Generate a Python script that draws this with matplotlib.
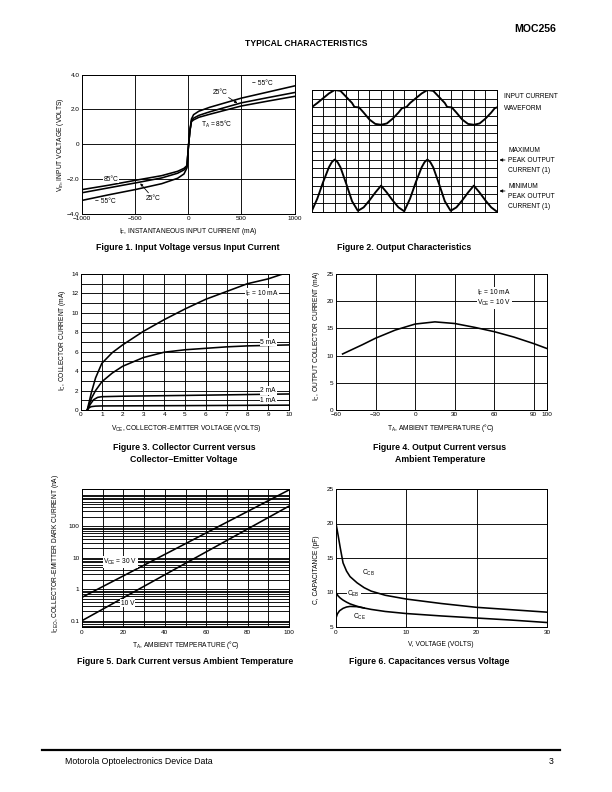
import matplotlib
matplotlib.use('Agg')
import matplotlib.pyplot as plt
from matplotlib.ticker import FixedLocator, NullFormatter, LogLocator

plt.rcParams['font.family'] = ['Liberation Sans', 'DejaVu Sans']
plt.rcParams['mathtext.default'] = 'regular'

# ---------------- data ----------------
# Figure 1: input voltage vs input current
f1_current = [-1000, -750, -500, -250, -100, -40, -12, 0, 15, 30, 50, 100, 200, 500, 750, 1000]
f1_v_85 = [-2.6, -2.35, -2.07, -1.8, -1.55, -1.38, -1.22, -0.25, 0.75, 1.3, 1.4, 1.55, 1.72, 2.2, 2.48, 2.75]
f1_v_25 = [-2.78, -2.5, -2.22, -1.93, -1.66, -1.47, -1.27, -0.25, 0.75, 1.35, 1.5, 1.66, 1.86, 2.38, 2.68, 2.97]
f1_v_m55 = [-3.22, -2.9, -2.6, -2.26, -1.95, -1.7, -1.35, -0.25, 0.75, 1.45, 1.7, 1.9, 2.12, 2.65, 3.0, 3.35]
f1_xticks = [-1000, -500, 0, 500, 1000]
f1_xticklabels = ['\u22121000', '\u2212500', '0', '500', '1000']
f1_yticks = [-4, -2, 0, 2, 4]
f1_yticklabels = ['\u22124.0', '\u22122.0', '0', '2.0', '4.0']

# Figure 2: output characteristics (grid divisions)
f2_x_in = [0, 0.5, 1, 1.5, 2, 2.5, 3, 3.5, 3.7, 4.1, 4.5, 5, 5.5, 6, 6.5, 7, 7.5, 7.8, 8.2, 8.5,
           9, 9.5, 10, 10.5, 11, 11.5, 11.7, 12.1, 12.5, 13, 13.5, 14, 14.5, 15, 15.5, 15.8, 16]
f2_y_in = [12, 12.5, 13.05, 13.6, 14, 13.9, 13.2, 12.5, 12.05, 12.0, 11.4, 10.6, 10.1, 10, 10.15, 10.7, 11.4, 11.9, 12.05, 12.5,
           13.05, 13.6, 14, 13.9, 13.2, 12.5, 12.05, 12.0, 11.4, 10.6, 10.1, 10, 10.15, 10.7, 11.4, 11.9, 12.0]
f2_x_out = [0, 0.5, 1, 1.5, 1.75, 2, 2.25, 2.5, 3, 3.5, 4, 4.5, 5, 5.5, 6, 6.5, 7, 7.5, 8, 8.5,
            9, 9.5, 9.75, 10, 10.25, 10.5, 11, 11.5, 12, 12.5, 13, 13.5, 14, 14.5, 15, 15.5, 16]
f2_y_out = [0, 1.5, 3.4, 5.1, 5.7, 6, 5.7, 5.1, 3.2, 1.2, 0.1, 0.5, 1.3, 2.2, 3, 2.2, 1.3, 0.5, 0.05, 1.5,
            3.4, 5.1, 5.7, 6, 5.7, 5.1, 3.2, 1.2, 0.1, 0.5, 1.3, 2.2, 3, 2.2, 1.3, 0.5, 0]

# Figure 3: collector current vs collector-emitter voltage
f3_v_10 = [0.3, 0.5, 0.7, 1, 1.5, 2, 3, 4, 5, 6, 7, 8, 9, 9.7]
f3_i_10 = [0, 1.8, 3.3, 4.8, 5.9, 6.7, 8.1, 9.3, 10.4, 11.4, 12.2, 13.0, 13.5, 14.0]
f3_v_5 = [0.3, 0.5, 0.7, 1, 1.5, 2, 3, 4, 5, 6, 7, 8, 9, 10]
f3_i_5 = [0, 1.2, 2.0, 2.9, 3.8, 4.5, 5.4, 5.95, 6.2, 6.35, 6.5, 6.6, 6.65, 6.7]
f3_v_2 = [0.3, 0.45, 0.6, 0.8, 1, 2, 5, 10]
f3_i_2 = [0, 0.6, 1.05, 1.3, 1.37, 1.42, 1.5, 1.65]
f3_v_1 = [0.3, 0.4, 0.5, 0.7, 1, 5, 10]
f3_i_1 = [0, 0.25, 0.35, 0.4, 0.42, 0.45, 0.5]

# Figure 4: output current vs ambient temperature
f4_temp = [-55, -40, -30, -15, 0, 15, 30, 45, 60, 75, 90, 100]
f4_ic = [10.3, 12.0, 13.2, 14.7, 15.8, 16.2, 15.9, 15.2, 14.4, 13.4, 12.2, 11.3]
f4_xticks = [-60, -30, 0, 30, 60, 90, 100]
f4_xticklabels = ['\u221260', '\u221230', '0', '30', '60', '90', '100']

# Figure 5: dark current vs ambient temperature
f5_temp = [0, 50, 100]
f5_id_30 = [0.55, 27.7, 1400]
f5_id_10 = [0.1, 6.6, 430]

# Figure 6: capacitances vs voltage
f6_v = [0, 0.3, 0.6, 1, 1.5, 2, 3, 4, 5, 7, 10, 15, 20, 25, 30]
f6_ccb = [20, 18.3, 16.5, 14.3, 13.1, 12.3, 11.4, 10.7, 10.2, 9.6, 9.05, 8.4, 7.85, 7.5, 7.15]
f6_ceb = [10, 9.5, 9.2, 8.9, 8.6, 8.35, 8.0, 7.75, 7.55, 7.25, 6.95, 6.6, 6.3, 6.0, 5.65]
f6_v_ce = [0, 0.2, 0.5, 1, 1.5, 2, 3, 4]
f6_cce = [6.3, 6.9, 7.35, 7.7, 7.9, 7.98, 7.95, 7.75]

# ---------------- layout helpers ----------------
W, H = 612, 792
fig = plt.figure(figsize=(W / 72, H / 72), dpi=72)

TICK = 6.4
LAB = 6.6
TIT = 8.8
LW = 1.6
GLW = 0.9
WB = dict(facecolor='white', edgecolor='none', pad=0.6)


def ax_at(l, t, r, b):
    a = fig.add_axes([l / W, 1 - b / H, (r - l) / W, (b - t) / H])
    for s in a.spines.values():
        s.set_linewidth(1.0)
        s.set_color('black')
    a.tick_params(length=0, pad=2.5, labelsize=TICK)
    a.set_axisbelow(True)
    return a


def ftext(x, y, s, **kw):
    kw.setdefault('ha', 'center')
    kw.setdefault('va', 'center')
    fig.text(x / W, 1 - y / H, s, **kw)


def grid(a, which='major'):
    a.grid(True, which=which, color='black', linewidth=GLW)

# ---------------- header / footer ----------------
ftext(556, 29, 'MOC256', ha='right', fontsize=10.5, fontweight='heavy')
ftext(306, 44, 'TYPICAL CHARACTERISTICS', fontsize=8.6, fontweight='bold')
fig.add_artist(plt.Line2D([42 / W, 560 / W], [1 - 750 / H, 1 - 750 / H], color='black', linewidth=2.2))
ftext(65, 762, 'Motorola Optoelectronics Device Data', ha='left', fontsize=8.8)
ftext(554, 762, '3', ha='right', fontsize=8.8)

# ---------------- Figure 1 ----------------
a1 = ax_at(82, 74.6, 294.5, 214)
a1.plot(f1_current, f1_v_85, color='black', lw=LW)
a1.plot(f1_current, f1_v_25, color='black', lw=LW)
a1.plot(f1_current, f1_v_m55, color='black', lw=LW)
a1.set_xlim(-1000, 1000)
a1.set_ylim(-4, 4)
a1.set_xticks(f1_xticks)
a1.set_xticklabels(f1_xticklabels)
a1.set_yticks(f1_yticks)
a1.set_yticklabels(f1_yticklabels)
grid(a1)
a1.text(700, 3.5, '\u2212 55\u00b0C', fontsize=LAB, ha='center', va='center')
a1.annotate('25\u00b0C', xy=(462, 2.36), xytext=(300, 3.0), fontsize=LAB, ha='center', va='center',
            arrowprops=dict(arrowstyle='-|>', color='black', lw=0.8, mutation_scale=5, shrinkA=0, shrinkB=0))
a1.text(270, 1.15, 'T$_A$ = 85\u00b0C', fontsize=LAB, ha='center', va='center')
a1.text(-727, -2.0, '85\u00b0C', fontsize=LAB, ha='center', va='center', bbox=WB)
a1.annotate('25\u00b0C', xy=(-452, -2.24), xytext=(-330, -3.1), fontsize=LAB, ha='center', va='center',
            arrowprops=dict(arrowstyle='-|>', color='black', lw=0.8, mutation_scale=5, shrinkA=0, shrinkB=0))
a1.text(-780, -3.3, '\u2212 55\u00b0C', fontsize=LAB, ha='center', va='center')
ftext(60, 145, 'V$_{in}$, INPUT VOLTAGE (VOLTS)', rotation=90, fontsize=LAB)
ftext(188, 231, 'I$_F$, INSTANTANEOUS INPUT CURRENT (mA)', fontsize=LAB)
ftext(188, 248, 'Figure 1. Input Voltage versus Input Current', fontsize=TIT, fontweight='bold')

# ---------------- Figure 2 ----------------
a2 = ax_at(311.5, 90, 497, 211.7)
a2.plot(f2_x_in, f2_y_in, color='black', lw=1.9, solid_joinstyle='round')
a2.plot(f2_x_out, f2_y_out, color='black', lw=1.9, solid_joinstyle='round')
a2.set_xlim(0, 16)
a2.set_ylim(0, 14)
a2.xaxis.set_major_locator(FixedLocator(list(range(0, 17))))
a2.yaxis.set_major_locator(FixedLocator(list(range(0, 15))))
a2.xaxis.set_major_formatter(NullFormatter())
a2.yaxis.set_major_formatter(NullFormatter())
grid(a2)
ftext(504, 97, 'INPUT CURRENT', ha='left', fontsize=LAB)
ftext(504, 108, 'WAVEFORM', ha='left', fontsize=LAB)
for yy, s in [(150, 'MAXIMUM'), (160, 'PEAK OUTPUT'), (171, 'CURRENT (1)'),
              (186, 'MINIMUM'), (196, 'PEAK OUTPUT'), (206, 'CURRENT (1)')]:
    ftext(508, yy, s, ha='left', fontsize=LAB)
for yy in (160, 191):
    fig.add_artist(matplotlib.patches.FancyArrowPatch((507 / W, 1 - yy / H), (497.5 / W, 1 - yy / H),
                                                      transform=fig.transFigure, arrowstyle='-|>',
                                                      mutation_scale=6, color='black', lw=0.8))
ftext(404, 248, 'Figure 2. Output Characteristics', fontsize=TIT, fontweight='bold')

# ---------------- Figure 3 ----------------
a3 = ax_at(81, 274, 289, 410)
a3.plot(f3_v_10, f3_i_10, color='black', lw=LW)
a3.plot(f3_v_5, f3_i_5, color='black', lw=LW)
a3.plot(f3_v_2, f3_i_2, color='black', lw=LW)
a3.plot(f3_v_1, f3_i_1, color='black', lw=LW)
a3.set_xlim(0, 10)
a3.set_ylim(0, 14)
a3.set_xticks(list(range(0, 11)))
a3.set_yticks(list(range(0, 15, 2)))
a3.yaxis.set_minor_locator(FixedLocator(list(range(1, 14, 2))))
a3.tick_params(which='minor', length=0)
grid(a3, 'both')
a3.text(8.7, 12, 'I$_F$ = 10 mA', fontsize=LAB, ha='center', va='center', bbox=WB)
a3.text(9.0, 7, '5 mA', fontsize=LAB, ha='center', va='center', bbox=WB)
a3.text(9.0, 2, '2 mA', fontsize=LAB, ha='center', va='center', bbox=WB)
a3.text(9.0, 1, '1 mA', fontsize=LAB, ha='center', va='center', bbox=WB)
ftext(62, 340, 'I$_C$, COLLECTOR CURRENT (mA)', rotation=90, fontsize=LAB)
ftext(186, 428, 'V$_{CE}$, COLLECTOR\u2013EMITTER VOLTAGE (VOLTS)', fontsize=LAB)
ftext(184, 447, 'Figure 3. Collector Current versus', fontsize=TIT, fontweight='bold')
ftext(184, 459, 'Collector\u2013Emitter Voltage', fontsize=TIT, fontweight='bold')

# ---------------- Figure 4 ----------------
a4 = ax_at(336, 274, 547, 410)
a4.plot(f4_temp, f4_ic, color='black', lw=LW)
a4.set_xlim(-60, 100)
a4.set_ylim(0, 25)
a4.set_xticks(f4_xticks)
a4.set_xticklabels(f4_xticklabels)
a4.set_yticks([0, 5, 10, 15, 20, 25])
for xv in [-30, 0, 30, 60, 90]:
    a4.axvline(xv, color='black', lw=GLW, zorder=0.5)
for yv in [5, 10, 15, 20]:
    a4.axhline(yv, color='black', lw=GLW, zorder=0.5)
a4.text(60, 21.5, 'I$_F$ = 10 mA', fontsize=LAB, ha='center', va='center', bbox=WB)
a4.text(60, 19.7, 'V$_{CE}$ = 10 V', fontsize=LAB, ha='center', va='center', bbox=WB)
ftext(316, 336, 'I$_C$, OUTPUT COLLECTOR CURRENT (mA)', rotation=90, fontsize=LAB)
ftext(441, 428, 'T$_A$, AMBIENT TEMPERATURE (\u00b0C)', fontsize=LAB)
ftext(440, 447, 'Figure 4. Output Current versus', fontsize=TIT, fontweight='bold')
ftext(440, 459, 'Ambient Temperature', fontsize=TIT, fontweight='bold')

# ---------------- Figure 5 ----------------
a5 = ax_at(82, 489, 289, 627)
a5.plot(f5_temp, f5_id_30, color='black', lw=LW)
a5.plot(f5_temp, f5_id_10, color='black', lw=LW)
a5.set_yscale('log')
a5.set_xlim(0, 100)
a5.set_ylim(0.063, 1500)
a5.set_xticks(list(range(0, 101, 20)))
a5.xaxis.set_minor_locator(FixedLocator(list(range(10, 100, 20))))
a5.yaxis.set_major_locator(FixedLocator([0.1, 1, 10, 100, 1000]))
a5.set_yticklabels(['0.1', '1', '10', '100', ''])
a5.yaxis.set_minor_locator(LogLocator(base=10, subs=[2, 3, 4, 5, 6, 7, 8, 9], numticks=20))
a5.yaxis.set_minor_formatter(NullFormatter())
a5.tick_params(which='minor', length=0)
grid(a5, 'both')
a5.text(18.5, 7.2, 'V$_{CE}$ = 30 V', fontsize=LAB, ha='center', va='center', bbox=WB)
a5.text(22, 0.36, '10 V', fontsize=LAB, ha='center', va='center', bbox=WB)
ftext(56, 553, 'I$_{CEO}$, COLLECTOR\u2013EMITTER DARK CURRENT (nA)', rotation=90, fontsize=LAB)
ftext(186, 645, 'T$_A$, AMBIENT TEMPERATURE (\u00b0C)', fontsize=LAB)
ftext(185, 662, 'Figure 5. Dark Current versus Ambient Temperature', fontsize=TIT, fontweight='bold')

# ---------------- Figure 6 ----------------
a6 = ax_at(336, 489, 547, 627)
a6.plot(f6_v, f6_ccb, color='black', lw=LW)
a6.plot(f6_v, f6_ceb, color='black', lw=LW)
a6.plot(f6_v_ce, f6_cce, color='black', lw=LW)
a6.set_xlim(0, 30)
a6.set_ylim(5, 25)
a6.set_xticks([0, 10, 20, 30])
a6.set_yticks([5, 10, 15, 20, 25])
grid(a6)
a6.text(4.6, 12.9, 'C$_{CB}$', fontsize=LAB, ha='center', va='center')
a6.text(2.5, 9.8, 'C$_{EB}$', fontsize=LAB, ha='center', va='center', bbox=WB)
a6.text(3.4, 6.5, 'C$_{CE}$', fontsize=LAB, ha='center', va='center')
ftext(316, 570, 'C, CAPACITANCE (pF)', rotation=90, fontsize=LAB)
ftext(441, 645, 'V, VOLTAGE (VOLTS)', fontsize=LAB)
ftext(429, 662, 'Figure 6. Capacitances versus Voltage', fontsize=TIT, fontweight='bold')

fig.savefig('out.png', dpi=72)
